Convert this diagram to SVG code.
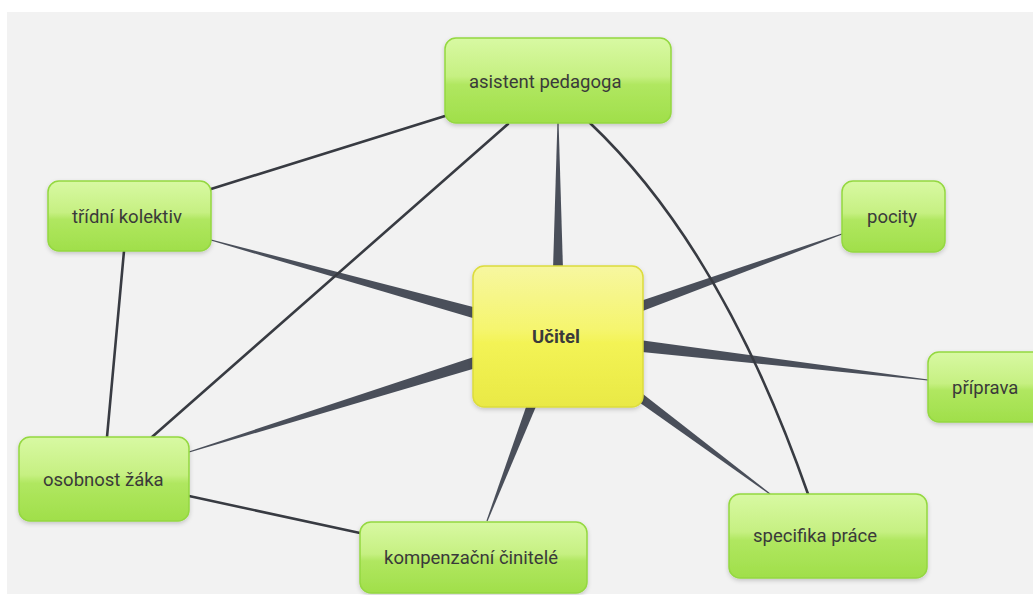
<svg xmlns="http://www.w3.org/2000/svg" width="1033" height="595" viewBox="0 0 1033 595">
<defs>
<linearGradient id="gGreen" x1="0" y1="0" x2="0" y2="1">
<stop offset="0" stop-color="#d8f9a3"/>
<stop offset="0.45" stop-color="#c6f082"/>
<stop offset="0.55" stop-color="#b0e760"/>
<stop offset="1" stop-color="#a0df4a"/>
</linearGradient>
<linearGradient id="gYellow" x1="0" y1="0" x2="0" y2="1">
<stop offset="0" stop-color="#f7f7a0"/>
<stop offset="0.45" stop-color="#f5f56e"/>
<stop offset="0.55" stop-color="#f3f355"/>
<stop offset="1" stop-color="#e9e945"/>
</linearGradient>
<filter id="sh" x="-10%" y="-10%" width="120%" height="130%">
<feDropShadow dx="0" dy="2" stdDeviation="2" flood-color="#000" flood-opacity="0.18"/>
</filter>
</defs>
<style>
.node rect{fill:url(#gGreen);stroke:#94d840;stroke-width:1.5;filter:url(#sh)}
.center rect{fill:url(#gYellow);stroke:#dcdc3c;stroke-width:1.5;filter:url(#sh)}
text{font-family:Roboto,"Liberation Sans",sans-serif;font-size:18.5px;fill:#3a3a3a}
.center text{font-weight:bold;text-anchor:middle}
.taper{fill:#4a4f5a}
.thin{fill:none;stroke:#383b42;stroke-width:2.6;stroke-linecap:round}
</style>
<rect x="0" y="0" width="1033" height="595" fill="#ffffff"/>
<rect x="7" y="12" width="1026" height="582" fill="#f2f2f2"/>
<g id="connectors">
<polygon class="taper" points="565,336 558.6,123 557.4,123 551,336"/>
<polygon class="taper" points="559.87,329.25 211.16,239.42 210.84,240.58 556.13,342.75"/>
<polygon class="taper" points="555.9,329.82 188.82,451.43 189.18,452.57 560.1,343.18"/>
<polygon class="taper" points="551.47,333.99 486.44,520.79 487.56,521.21 564.53,339.01"/>
<polygon class="taper" points="560.37,342.59 842.2,234.57 841.8,233.43 555.63,329.41"/>
<polygon class="taper" points="557.18,343.45 927.93,380.6 928.07,379.4 558.82,329.05"/>
<polygon class="taper" points="553.83,342.12 769.64,494.48 770.36,493.52 562.18,330.88"/>
<line class="thin" x1="445" y1="116" x2="211" y2="189"/>
<line class="thin" x1="508" y1="124" x2="152" y2="437"/>
<path class="thin" d="M590,123 Q722,248 808,494"/>
<line class="thin" x1="124" y1="251" x2="107" y2="437"/>
<line class="thin" x1="189" y1="496" x2="360" y2="533"/>
</g>
<g id="node-asistent" class="node"><rect x="445" y="38" width="226" height="85" rx="11"/><text x="469" y="88">asistent pedagoga</text></g>
<g id="node-tridni" class="node"><rect x="48" y="181" width="163" height="70" rx="11"/><text x="72" y="223">třídní kolektiv</text></g>
<g id="node-pocity" class="node"><rect x="842" y="181" width="103" height="71" rx="11"/><text x="867" y="223">pocity</text></g>
<g id="node-ucitel" class="center"><rect x="473" y="266" width="170" height="141" rx="11"/><text x="556" y="343">Učitel</text></g>
<g id="node-priprava" class="node"><rect x="928" y="352" width="120" height="70" rx="11"/><text x="952" y="394">příprava</text></g>
<g id="node-specifika" class="node"><rect x="729" y="494" width="198" height="84" rx="11"/><text x="753" y="542">specifika práce</text></g>
<g id="node-osobnost" class="node"><rect x="19" y="437" width="170" height="84" rx="11"/><text x="43" y="486">osobnost žáka</text></g>
<g id="node-kompenzacni" class="node"><rect x="360" y="522" width="227" height="71" rx="11"/><text x="384" y="564">kompenzační činitelé</text></g>
</svg>
